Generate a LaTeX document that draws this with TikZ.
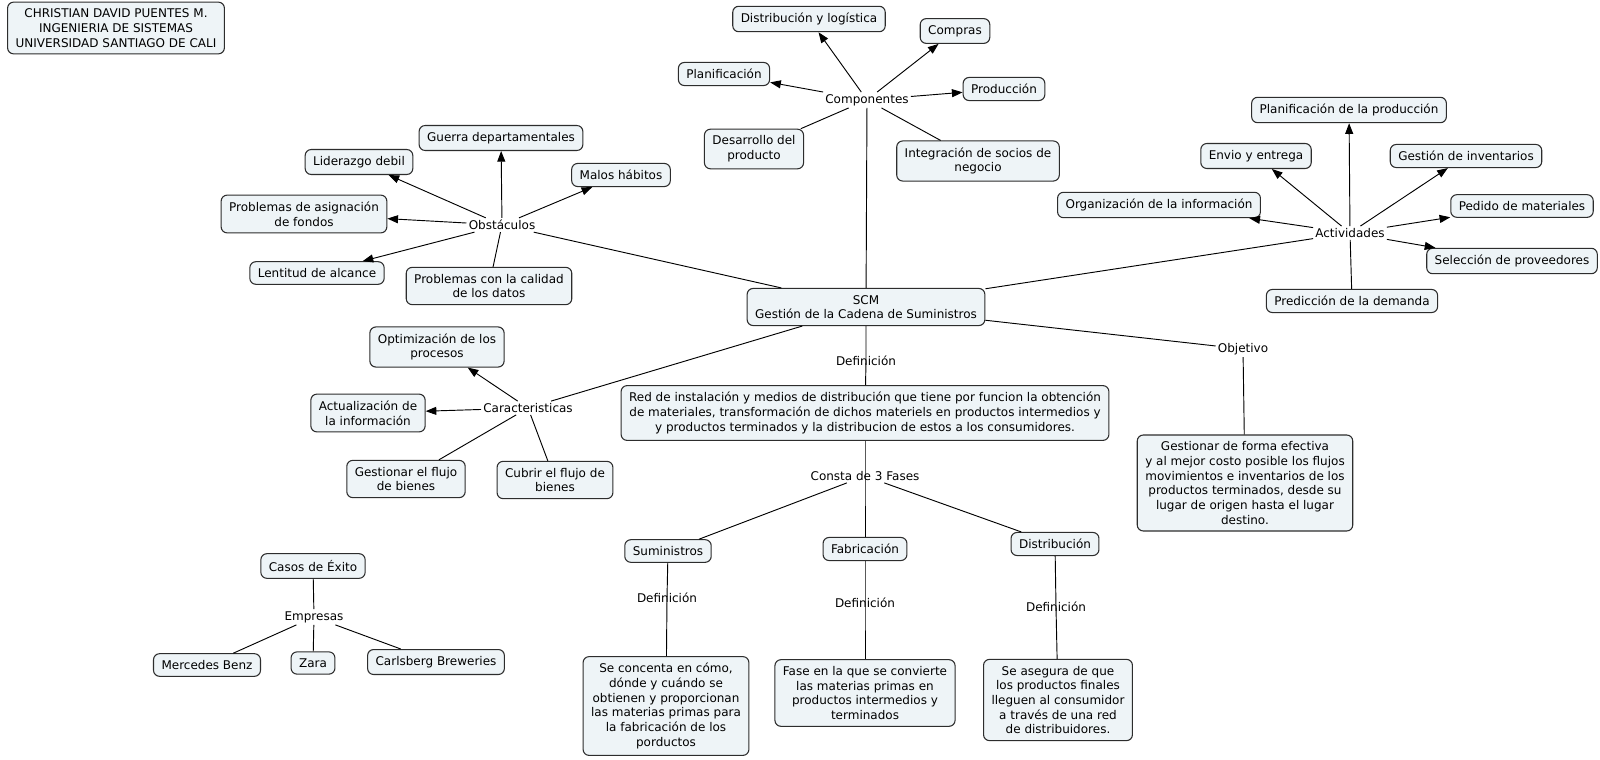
\documentclass[tikz,border=0pt]{standalone}
\usepackage{fontspec}
\setmainfont{DejaVu Sans}
\usetikzlibrary{arrows.meta, positioning}
\definecolor{conceptfill}{RGB}{238,244,247}
\definecolor{conceptline}{RGB}{45,45,45}

\begin{document}
\begin{tikzpicture}[x=0.75pt, y=-0.75pt, >={Triangle[length=8pt,width=6pt]},
  every node/.style={font=\fontsize{9}{11}\selectfont, align=center},
  concept/.style={draw=conceptline, line width=0.8pt, fill=conceptfill,
                  rounded corners=4.5pt, inner xsep=6pt, inner ysep=5pt},
  linkword/.style={inner sep=1.5pt},
  conn/.style={line width=0.7pt}]
\useasboundingbox[fill=white] (0,0) rectangle (1600,760);

% author
\node[concept] (autor) at (116,28) {CHRISTIAN DAVID PUENTES M.\\INGENIERIA DE SISTEMAS\\UNIVERSIDAD SANTIAGO DE CALI};

% centre
\node[concept] (scm) at (866,307) {SCM\\Gestión de la Cadena de Suministros};

% componentes
\node[linkword] (comp) at (867,100) {Componentes};
\node[concept] (distlog) at (809,19) {Distribución y logística};
\node[concept] (compras) at (955,31) {Compras};
\node[concept] (planif) at (724,74) {Planificación};
\node[concept] (produc) at (1004,89) {Producción};
\node[concept] (desarr) at (754,149) {Desarrollo del\\producto};
\node[concept] (integr) at (978,161) {Integración de socios de\\negocio};
\draw[conn] (scm) -- (comp);
\draw[conn,->] (comp) -- (distlog);
\draw[conn,->] (comp) -- (compras);
\draw[conn,->] (comp) -- (planif);
\draw[conn,->] (comp) -- (produc);
\draw[conn] (comp) -- (desarr);
\draw[conn] (comp) -- (integr);

% obstaculos
\node[linkword] (obst) at (502,225) {Obstáculos};
\node[concept] (guerra) at (501,138) {Guerra departamentales};
\node[concept] (lider) at (359,162) {Liderazgo debil};
\node[concept] (malos) at (621,175) {Malos hábitos};
\node[concept] (asign) at (304,214) {Problemas de asignación\\de fondos};
\node[concept] (lentitud) at (317,273) {Lentitud de alcance};
\node[concept] (calidad) at (489,286) {Problemas con la calidad\\de los datos};
\draw[conn] (scm) -- (obst);
\draw[conn,->] (obst) -- (guerra);
\draw[conn,->] (obst) -- (lider);
\draw[conn,->] (obst) -- (malos);
\draw[conn,->] (obst) -- (asign);
\draw[conn,->] (obst) -- (lentitud);
\draw[conn] (obst) -- (calidad);

% actividades
\node[linkword] (activ) at (1350,233) {Actividades};
\node[concept] (planprod) at (1349,110) {Planificación de la producción};
\node[concept] (envio) at (1256,156) {Envio y entrega};
\node[concept] (geninv) at (1466,156) {Gestión de inventarios};
\node[concept] (organiz) at (1159,205) {Organización de la información};
\node[concept] (pedido) at (1522,206) {Pedido de materiales};
\node[concept] (selecc) at (1512,261) {Selección de proveedores};
\node[concept] (predic) at (1352,301) {Predicción de la demanda};
\draw[conn] (scm) -- (activ);
\draw[conn,->] (activ) -- (planprod);
\draw[conn,->] (activ) -- (envio);
\draw[conn,->] (activ) -- (geninv);
\draw[conn,->] (activ) -- (organiz);
\draw[conn,->] (activ) -- (pedido);
\draw[conn,->] (activ) -- (selecc);
\draw[conn] (activ) -- (predic);

% objetivo
\node[linkword] (objet) at (1243,349) {Objetivo};
\node[concept] (objbox) at (1245,483) {Gestionar de forma efectiva\\y al mejor costo posible los flujos\\movimientos e inventarios de los\\productos terminados, desde su\\lugar de origen hasta el lugar\\destino.};
\draw[conn] (scm) -- (objet);
\draw[conn] (objet) -- (objbox);

% caracteristicas
\node[linkword] (caract) at (528,408) {Caracteristicas};
\node[concept] (optim) at (437,347) {Optimización de los\\procesos};
\node[concept] (actual) at (368,413) {Actualización de\\la información};
\node[concept] (gesflujo) at (406,479) {Gestionar el flujo\\de bienes};
\node[concept] (cubrir) at (555,480) {Cubrir el flujo de\\bienes};
\draw[conn] (scm) -- (caract);
\draw[conn,->] (caract) -- (optim);
\draw[conn,->] (caract) -- (actual);
\draw[conn] (caract) -- (gesflujo);
\draw[conn] (caract) -- (cubrir);

% definicion y fases
\node[linkword] (defscm) at (866,361) {Definición};
\node[concept] (red) at (865,413) {Red de instalación y medios de distribución que tiene por funcion la obtención\\de materiales, transformación de dichos materiels en productos intermedios y\\y productos terminados y la distribucion de estos a los consumidores.};
\node[linkword] (consta) at (865,476) {Consta de 3 Fases};
\node[concept] (sumin) at (668,551) {Suministros};
\node[concept] (fabric) at (865,549) {Fabricación};
\node[concept] (distrib) at (1055,544) {Distribución};
\draw[conn] (scm) -- (defscm.center) -- (red);
\draw[conn] (red) -- (consta.center) -- (fabric);
\draw[conn] (consta) -- (sumin);
\draw[conn] (consta) -- (distrib);

\node[linkword] (defsum) at (667,598) {Definición};
\node[linkword] (deffab) at (865,603) {Definición};
\node[linkword] (defdis) at (1056,607) {Definición};
\node[concept] (seconc) at (666,706) {Se concenta en cómo,\\dónde y cuándo se\\obtienen y proporcionan\\las materias primas para\\la fabricación de los\\porductos};
\node[concept] (fase) at (865,693) {Fase en la que se convierte\\las materias primas en\\productos intermedios y\\terminados};
\node[concept] (asegura) at (1058,700) {Se asegura de que\\los productos finales\\lleguen al consumidor\\a través de una red\\de distribuidores.};
\draw[conn] (sumin) -- (defsum.center) -- (seconc);
\draw[conn] (fabric) -- (deffab.center) -- (fase);
\draw[conn] (distrib) -- (defdis.center) -- (asegura);

% casos de exito
\node[concept] (casos) at (313,566) {Casos de Éxito};
\node[linkword] (empresas) at (314,617) {Empresas};
\node[concept] (mercedes) at (207,665) {Mercedes Benz};
\node[concept] (zara) at (313,663) {Zara};
\node[concept] (carls) at (436,662) {Carlsberg Breweries};
\draw[conn] (casos) -- (empresas);
\draw[conn] (empresas) -- (mercedes);
\draw[conn] (empresas) -- (zara);
\draw[conn] (empresas) -- (carls);
\end{tikzpicture}
\end{document}
